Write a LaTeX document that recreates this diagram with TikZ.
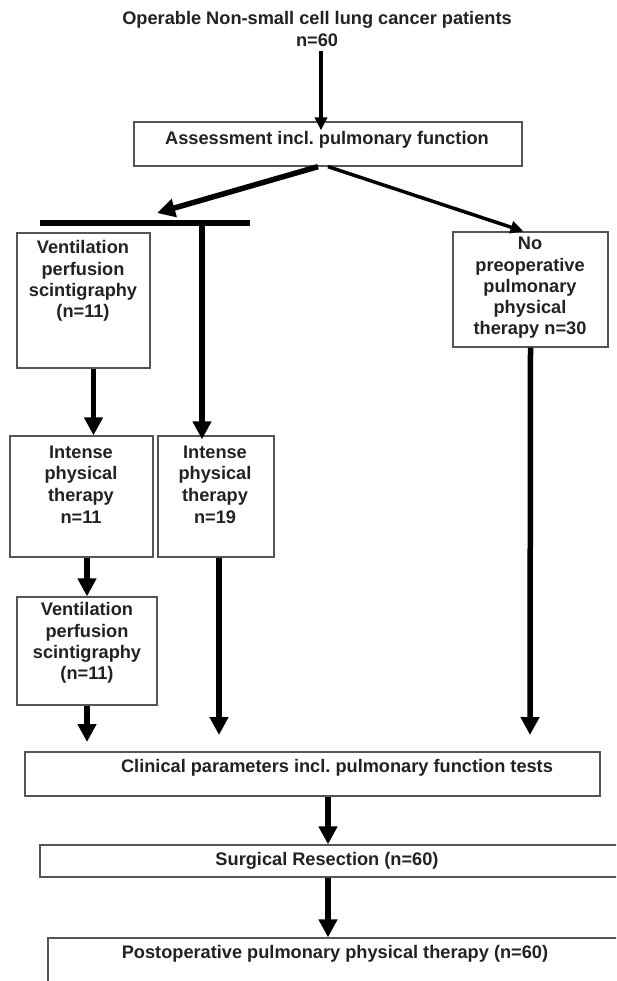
\documentclass[tikz,border=0pt]{standalone}
\usepackage{fontspec}
\setmainfont{Liberation Sans}
\usetikzlibrary{arrows.meta}
\definecolor{boxgray}{HTML}{555555}
\definecolor{txtcol}{HTML}{222222}
\begin{document}
\frenchspacing
\begin{tikzpicture}[x=1pt,y=-1pt,
  box/.style={draw=boxgray, line width=1.3pt, inner sep=0pt, fill=white},
  txt/.style={font=\bfseries\fontsize{18.2}{21.3}\selectfont, align=center, text=txtcol, inner sep=0pt},
  bigarrow/.style={line width=5.5pt, -{Triangle[length=18pt,width=18pt]}},
  thinarrow/.style={line width=3.5pt, -{Triangle[length=13pt,width=12pt]}},
  bararrow/.style={line width=5.5pt, -{Triangle[length=18pt,width=18pt]}}
]
\useasboundingbox (0,0) rectangle (616,981);
\clip (0,0) rectangle (616,981);
\fill[white] (0,0) rectangle (616,981);

% boxes
\node[box, minimum width=388pt, minimum height=44pt] (assess) at (328,144) {};
\node[box, minimum width=133pt, minimum height=135pt] (vps1) at (83.5,300.5) {};
\node[box, minimum width=155pt, minimum height=115pt] (nopre) at (530.5,289.5) {};
\node[box, minimum width=143pt, minimum height=121pt] (ipt11) at (81.5,496.5) {};
\node[box, minimum width=116pt, minimum height=121pt] (ipt19) at (216,496.5) {};
\node[box, minimum width=140pt, minimum height=108pt] (vps2) at (87,651) {};
\node[box, minimum width=575pt, minimum height=44pt] (clin) at (312.5,774) {};
\node[box, minimum width=590pt, minimum height=32pt] (surg) at (335,861) {};
\node[box, minimum width=580pt, minimum height=60pt] (post) at (338,968) {};

% texts
\node[txt] (title) at (317,29) {Operable Non-small cell lung cancer patients\\n=60};
\node[txt] (assess-t) at (327,140) {Assessment incl. pulmonary function};
\node[txt] (vps1-t) at (83,281) {Ventilation\\perfusion\\scintigraphy\\(n=11)};
\node[txt] (nopre-t) at (530,288) {No\\preoperative\\pulmonary\\physical\\therapy n=30};
\node[txt] (ipt11-t) at (81,485) {Intense\\physical\\therapy\\[1.5pt]n=11};
\node[txt] (ipt19-t) at (215,485) {Intense\\physical\\therapy\\[1.5pt]n=19};
\node[txt] (vps2-t) at (87,643) {Ventilation\\perfusion\\scintigraphy\\(n=11)};
\node[txt] (clin-t) at (337,768) {Clinical parameters incl. pulmonary function tests};
\node[txt] (surg-t) at (327,861) {Surgical Resection (n=60)};
\node[txt] (post-t) at (335,954) {Postoperative pulmonary physical therapy (n=60)};

% bar
\coordinate (barL) at (40,223);
\coordinate (barR) at (250,223);
\coordinate (barTip) at (157,213);
\coordinate (barOut) at (202,223);
\draw[line width=6pt] (barL) -- (barR);

% free ends
\coordinate (endA) at (87,742);
\coordinate (endB) at (219,735);
\coordinate (endC) at (530,735);

% connectors
\draw[thinarrow] ([xshift=4pt,yshift=-4pt]title.south) -- ([xshift=-7pt,yshift=-9pt]assess.north);
\draw[bararrow] ([xshift=-10pt]assess.south) -- (barTip);
\draw[thinarrow] ([xshift=0pt]assess.south) -- ([xshift=-7pt]nopre.north);
\draw[bigarrow] (barOut) -- ([xshift=-14pt,yshift=-4pt]ipt19.north);
\draw[bigarrow] ([xshift=10pt]vps1.south) -- ([xshift=12pt]ipt11.north);
\draw[bigarrow] ([xshift=5.5pt]ipt11.south) -- (vps2.north);
\draw[bigarrow] (vps2.south) -- (endA);
\draw[bigarrow] ([xshift=3pt]ipt19.south) -- (endB);
\draw[bigarrow] (nopre.south) -- (endC);
\draw[bigarrow] ([xshift=15.5pt]clin.south) -- ([xshift=-7pt]surg.north);
\draw[bigarrow] ([xshift=-7pt]surg.south) -- ([xshift=-10pt]post.north);
\end{tikzpicture}
\end{document}
